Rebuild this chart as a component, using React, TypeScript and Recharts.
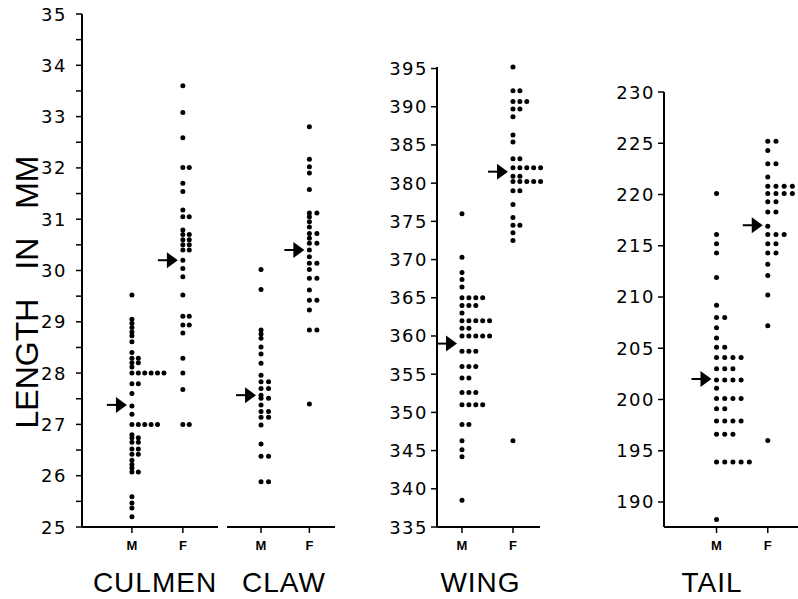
import { ScatterChart, Scatter, XAxis, YAxis, Label } from 'recharts';

const categories = ['M', 'F'];

// culmen (mm)
const culmenMale = [
  29.52, 29.05, 28.97, 28.89, 28.8, 28.73, 28.61, 28.4, 28.29, 28.29, 28.2, 28.2, 28.12,
  28.0, 28.0, 28.0, 28.0, 28.0, 28.0, 27.79, 27.79, 27.6, 27.36, 27.2,
  27.0, 27.0, 27.0, 27.0, 27.0, 26.8, 26.74, 26.74, 26.65, 26.65, 26.52, 26.52, 26.42, 26.42,
  26.3, 26.22, 26.15, 26.07, 26.07, 25.59, 25.47, 25.37, 25.2,
];
const culmenFemale = [
  33.6, 33.08, 32.59, 32.01, 32.01, 31.7, 31.54, 31.18, 31.05, 31.05, 30.79, 30.7, 30.7,
  30.6, 30.6, 30.5, 30.5, 30.4, 30.4, 30.2, 30.04, 29.88, 29.52, 29.11, 29.11, 28.94, 28.94,
  28.78, 28.29, 28.0, 27.68, 27.0, 27.0,
];

// claw (mm)
const clawMale = [
  30.02, 29.63, 28.84, 28.76, 28.68, 28.51, 28.37, 28.19, 27.96, 27.83, 27.83, 27.7, 27.7,
  27.57, 27.51, 27.51, 27.38, 27.25, 27.25, 27.14, 27.14, 26.99, 26.62, 26.38, 26.38, 25.88, 25.88,
];
const clawFemale = [
  32.8, 32.17, 32.02, 31.9, 31.58, 31.12, 31.12, 31.05, 30.95, 30.85, 30.72, 30.72, 30.63,
  30.53, 30.53, 30.4, 30.27, 30.14, 30.14, 30.02, 29.85, 29.85, 29.62, 29.42, 29.42, 29.23,
  28.84, 28.84, 27.4,
];

// wing (mm)
const wingMale = [
  376, 370.3, 368.3, 367.4, 366.4, 365, 365, 365, 365, 364, 364, 364, 363,
  362, 362, 362, 362, 362, 361, 361, 360, 360, 360, 360, 360, 358, 358, 358,
  356, 356, 356, 354.5, 354.5, 352.6, 352.6, 352.6, 351, 351, 351, 351,
  348.4, 348.4, 346.3, 345.1, 344.2, 338.5,
];
const wingFemale = [
  395.2, 392.1, 392.1, 390.7, 390.7, 390.7, 389.7, 389.7, 388.7, 386.3, 385.4, 383.2, 383.2,
  382, 382, 382, 382, 382, 382, 380.9, 380.9, 380.2, 380.2, 380.2, 380.2, 380.2, 379, 379,
  377.2, 375.5, 374.5, 374.5, 373.5, 372.5, 346.3,
];

// tail (mm)
const tailMale = [
  220.1, 216.1, 215.2, 214.3, 211.9, 209.2, 208, 208, 207, 206, 205.1, 205.1,
  204.1, 204.1, 204.1, 204.1, 203, 203, 203, 201.9, 201.9, 201.9, 201.9, 201.1,
  200.1, 200.1, 200.1, 200.1, 199.1, 199.1, 197.9, 197.9, 197.9, 197.9, 196.6, 196.6, 196.6,
  193.9, 193.9, 193.9, 193.9, 193.9, 188.3,
];
const tailFemale = [
  225.2, 225.2, 224.3, 223, 223, 221.7, 220.8, 220.8, 220.8, 220.8, 220.8,
  220.1, 220.1, 220.1, 220.1, 219.3, 219.3, 218.3, 218.3, 216.9, 216.1, 216.1, 216.1,
  215.2, 215.2, 214.3, 214.3, 213.2, 212.1, 210.2, 207.2, 196,
];

// means (arrows), M then F
const culmenMeans = [27.38, 30.2];
const clawMeans = [27.57, 30.4];
const wingMeans = [359, 381.5];
const tailMeans = [202, 217];

const culmenTicks = [25, 25.5, 26, 26.5, 27, 27.5, 28, 28.5, 29, 29.5, 30, 30.5, 31, 31.5, 32, 32.5, 33, 33.5, 34, 34.5, 35];
const wingTicks = [335, 340, 345, 350, 355, 360, 365, 370, 375, 380, 385, 390, 395];
const tailTicks = [190, 195, 200, 205, 210, 215, 220, 225, 230];

const NUM_FONT = '"DejaVu Sans", sans-serif';
const TITLE_FONT = '"Liberation Sans", Arial, sans-serif';

// repeated values get a running index so they sit side by side in a row
function stack(values: number[], cat: number) {
  const seen = new Map<number, number>();
  return values.map((v) => {
    const k = seen.get(v) ?? 0;
    seen.set(v, k + 1);
    return { x: cat, y: v, k };
  });
}

const makeDot = (gap: number) => (p: any) => (
  <circle cx={p.cx + (p.payload?.k ?? 0) * gap} cy={p.cy} r={2.5} fill="#000" />
);

const Arrow = (p: any) => {
  const { cx, cy } = p;
  const tip = cx - 5;
  return (
    <g>
      <line x1={tip - 20} y1={cy} x2={tip - 9} y2={cy} stroke="#000" strokeWidth={2} />
      <polygon points={`${tip},${cy} ${tip - 11},${cy - 8} ${tip - 11},${cy + 8}`} fill="#000" />
    </g>
  );
};

const NumTick = (p: any) => {
  const v = p.payload.value;
  if (!Number.isInteger(v)) return <g />;
  return (
    <text x={p.x} y={p.y} textAnchor="end" dominantBaseline="central" fontFamily={NUM_FONT} fontSize={18} fontWeight={500} letterSpacing={1.5} fill="#000">
      {v}
    </text>
  );
};

const CatTick = (p: any) => (
  <text x={p.x} y={p.y + 15} textAnchor="middle" fontFamily={TITLE_FONT} fontWeight="bold" fontSize={13} fill="#000">
    {categories[p.payload.value - 1]}
  </text>
);

type PanelProps = {
  left: number;
  width: number;
  top: number;
  marginLeft: number;
  marginRight: number;
  yAxisWidth: number;
  tickMargin: number;
  showY: boolean;
  yDomain: [number, number];
  yTicks: number[];
  xDomain: [number, number];
  gap: number;
  male: number[];
  female: number[];
  means: number[];
  title: string;
  titleDx: number;
  yTitle?: boolean;
};

function Panel(p: PanelProps) {
  const dots = [...stack(p.male, 1), ...stack(p.female, 2)];
  const meanPts = p.means.map((m, i) => ({ x: i + 1, y: m }));
  return (
    <div style={{ position: 'absolute', left: p.left, top: 0 }}>
      <ScatterChart width={p.width} height={599} margin={{ top: p.top, right: p.marginRight, bottom: 0, left: p.marginLeft }}>
        <XAxis
          type="number"
          dataKey="x"
          domain={p.xDomain}
          ticks={[1, 2]}
          interval={0}
          height={72}
          axisLine={{ stroke: '#000', strokeWidth: 2 }}
          tickLine={{ stroke: '#000', strokeWidth: 1.5 }}
          tickSize={6}
          tick={CatTick}
        >
          <Label
            content={(lp: any) => {
              const vb = lp.viewBox;
              return (
                <text x={vb.x + vb.width / 2 + p.titleDx} y={vb.y + 65} textAnchor="middle" fontFamily={TITLE_FONT} fontSize={28} letterSpacing={1} fill="#000">
                  {p.title}
                </text>
              );
            }}
          />
        </XAxis>
        <YAxis
          type="number"
          dataKey="y"
          domain={p.yDomain}
          ticks={p.yTicks}
          interval={0}
          hide={!p.showY}
          width={p.yAxisWidth}
          axisLine={{ stroke: '#000', strokeWidth: 2 }}
          tickLine={{ stroke: '#000', strokeWidth: 1.5 }}
          tickSize={6}
          tickMargin={p.tickMargin}
          tick={NumTick}
        >
          {p.yTitle && (
            <Label
              content={() => (
                <text x={27} y={292} transform="rotate(-90 27 292)" textAnchor="middle" dominantBaseline="central" fontFamily={TITLE_FONT} fontSize={32} wordSpacing={20} fill="#000">
                  LENGTH IN MM
                </text>
              )}
            />
          )}
        </YAxis>
        <Scatter data={dots} shape={makeDot(p.gap)} isAnimationActive={false} />
        <Scatter data={meanPts} shape={Arrow} isAnimationActive={false} />
      </ScatterChart>
    </div>
  );
}

export default function App() {
  return (
    <div style={{ position: 'absolute', left: 0, top: 0, width: 798, height: 599, background: '#fff', overflow: 'hidden' }}>
      <Panel left={0} width={222} top={14} marginLeft={0} marginRight={4} yAxisWidth={82} tickMargin={9} showY yDomain={[25, 35]} yTicks={culmenTicks}
        xDomain={[0.02, 2.69]} gap={6.4} male={culmenMale} female={culmenFemale} means={culmenMeans} title="CULMEN" titleDx={5} yTitle />
      <Panel left={222} width={118} top={14} marginLeft={5} marginRight={5} yAxisWidth={0} tickMargin={4} showY={false} yDomain={[25, 35]} yTicks={culmenTicks}
        xDomain={[0.296, 2.53]} gap={7.5} male={clawMale} female={clawFemale} means={clawMeans} title="CLAW" titleDx={3} />
      <Panel left={345} width={200} top={67} marginLeft={0} marginRight={5} yAxisWidth={92} tickMargin={3} showY yDomain={[335, 395]} yTicks={wingTicks}
        xDomain={[0.51, 2.53]} gap={6.9} male={wingMale} female={wingFemale} means={wingMeans} title="WING" titleDx={-8} />
      <Panel left={560} width={238} top={92} marginLeft={0} marginRight={0} yAxisWidth={104} tickMargin={3} showY yDomain={[187.56, 230]} yTicks={tailTicks}
        xDomain={[-0.025, 2.59]} gap={8.2} male={tailMale} female={tailFemale} means={tailMeans} title="TAIL" titleDx={-19} />
    </div>
  );
}
